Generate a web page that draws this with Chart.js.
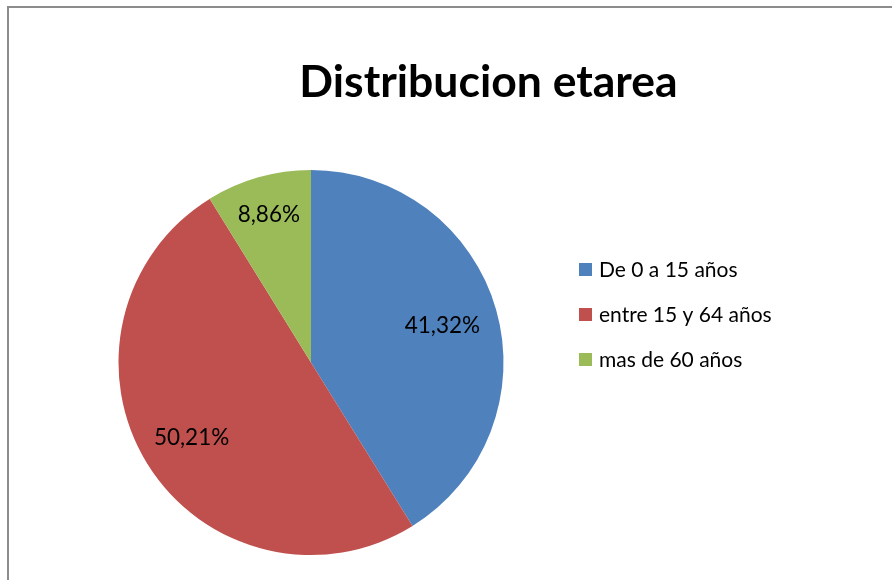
<!DOCTYPE html>
<html>
<head>
<meta charset="utf-8">
<title>Distribucion etarea</title>
<script src="https://cdn.jsdelivr.net/npm/chart.js@4.4.1/dist/chart.umd.min.js"></script>
<style>
  html, body { margin: 0; padding: 0; background: #fff; }
  #wrap { position: relative; width: 892px; height: 580px; overflow: hidden; }
  #frame {
    position: absolute; left: 7px; top: 6px; width: 900px; height: 600px;
    border-top: 2px solid #8c8c8c; border-left: 2px solid #8c8c8c;
  }
  #chart { position: absolute; left: 0; top: 0; }
</style>
</head>
<body>
<div id="wrap">
  <div id="frame"></div>
  <canvas id="chart" width="892" height="580"></canvas>
</div>
<script>
// Chart data
const chartTitle = "Distribucion etarea"
const labels = ["De 0 a 15 años", "entre 15 y 64 años", "mas de 60 años"]
const values = [41.32, 50.21, 8.86]
const colors = ["#4F81BD", "#C0504D", "#9BBB59"]

// how far out (fraction of radius) each percentage label sits
const labelRadius = [0.71, 0.73, 0.8]

const sliceLabels = {
  id: "sliceLabels",
  afterDatasetsDraw(chart) {
    const ctx = chart.ctx
    const meta = chart.getDatasetMeta(0)
    const size = 22.5
    ctx.save()
    ctx.font = size + "px Lato"
    ctx.fillStyle = "#000"
    ctx.textAlign = "center"
    ctx.textBaseline = "alphabetic"
    meta.data.forEach((arc, i) => {
      const { x, y, startAngle, endAngle, outerRadius } = arc.getProps(["x", "y", "startAngle", "endAngle", "outerRadius"], true)
      const mid = (startAngle + endAngle) / 2
      const r = outerRadius * labelRadius[i]
      const text = values[i].toFixed(2).replace(".", ",") + "%"
      ctx.fillText(text, x + Math.cos(mid) * r, y + Math.sin(mid) * r + size * 0.36)
    })
    ctx.restore()
  },
}

// title and legend, placed like the Excel original
const titleAndLegend = {
  id: "titleAndLegend",
  afterDraw(chart) {
    const ctx = chart.ctx
    ctx.save()
    ctx.fillStyle = "#000"
    ctx.textBaseline = "alphabetic"

    ctx.font = "bold 44.5px Lato"
    ctx.textAlign = "center"
    ctx.fillText(chartTitle, 488.5, 97)

    ctx.font = "21px Lato"
    ctx.textAlign = "left"
    labels.forEach((label, i) => {
      const top = 263 + i * 45
      ctx.fillStyle = colors[i]
      ctx.fillRect(579, top, 13, 13)
      ctx.fillStyle = "#000"
      ctx.fillText(label, 599, top + 14)
    })
    ctx.restore()
  },
}

new Chart(document.getElementById("chart"), {
  type: "pie",
  data: {
    labels: labels,
    datasets: [
      {
        data: values,
        backgroundColor: colors,
        borderWidth: 0,
      },
    ],
  },
  options: {
    responsive: false,
    animation: false,
    devicePixelRatio: 1,
    layout: {
      padding: { left: 118, top: 170, right: 388, bottom: 25 },
    },
    plugins: {
      legend: { display: false },
      title: { display: false },
      tooltip: { enabled: false },
    },
  },
  plugins: [sliceLabels, titleAndLegend],
})
</script>
</body>
</html>
